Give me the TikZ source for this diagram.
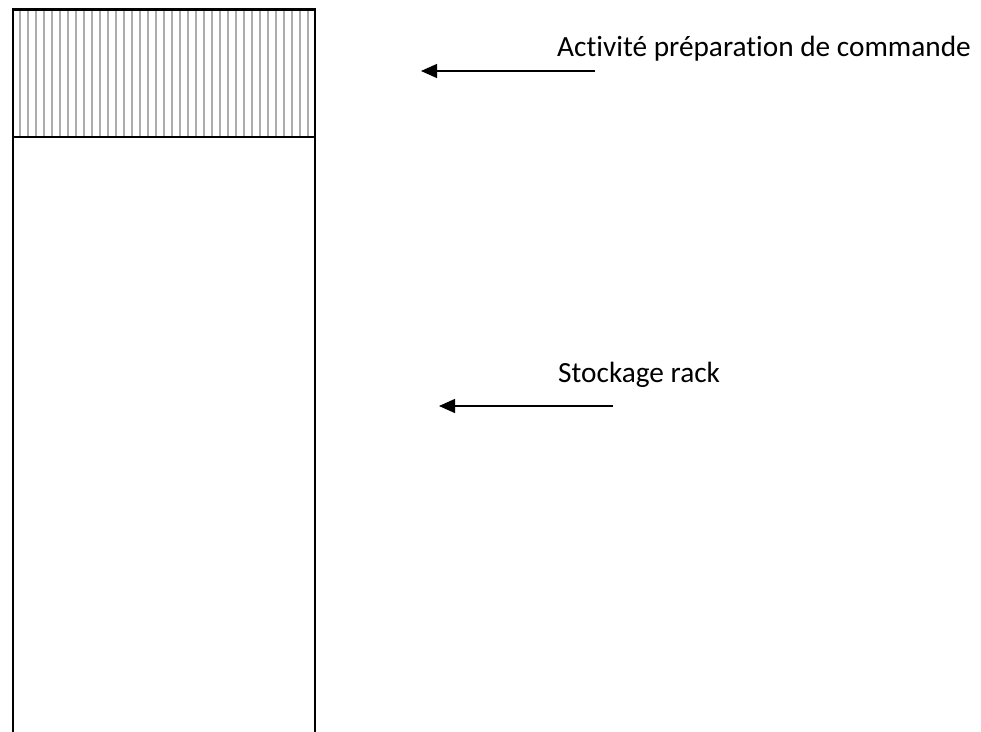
\documentclass[tikz,border=0pt]{standalone}
\usepackage{fontspec}
\setmainfont[Ligatures=NoCommon]{Carlito}
\usetikzlibrary{arrows.meta}
\begin{document}
\begin{tikzpicture}[x=1pt,y=-1pt,
  frame/.style={line width=2.6pt,black},
  hatch/.style={line width=1.6pt,color=black!32},
  pointer/.style={line width=1.3pt,-{Triangle[length=16pt,width=14pt]}},
  lbl/.style={font=\fontsize{29.3}{34}\selectfont,anchor=base west,inner sep=0pt}]
\useasboundingbox (0,0) rectangle (981,731);
% hatching
\foreach \i in {0,...,36} {
  \draw[hatch] ({20+8*\i},10) -- ({20+8*\i},136);
}
% frame
\coordinate (tl) at (13,9.5);
\coordinate (tr) at (315,9.5);
\coordinate (ml) at (13,137);
\coordinate (mr) at (315,137);
\coordinate (bl) at (13,732);
\coordinate (br) at (315,732);
\draw[frame] (bl) -- (tl) -- (tr) -- (br);
\draw[frame] (ml) -- (mr);
% labels
\node[lbl] (t1) at (557,56.5) {Activité préparation de commande};
\node[lbl] (t2) at (558,382) {Stockage rack};
\coordinate (a1s) at (595,71);
\coordinate (a1e) at (421,71);
\coordinate (a2s) at (613,406);
\coordinate (a2e) at (439,406);
\draw[pointer] (a1s) -- (a1e);
\draw[pointer] (a2s) -- (a2e);
\end{tikzpicture}
\end{document}
